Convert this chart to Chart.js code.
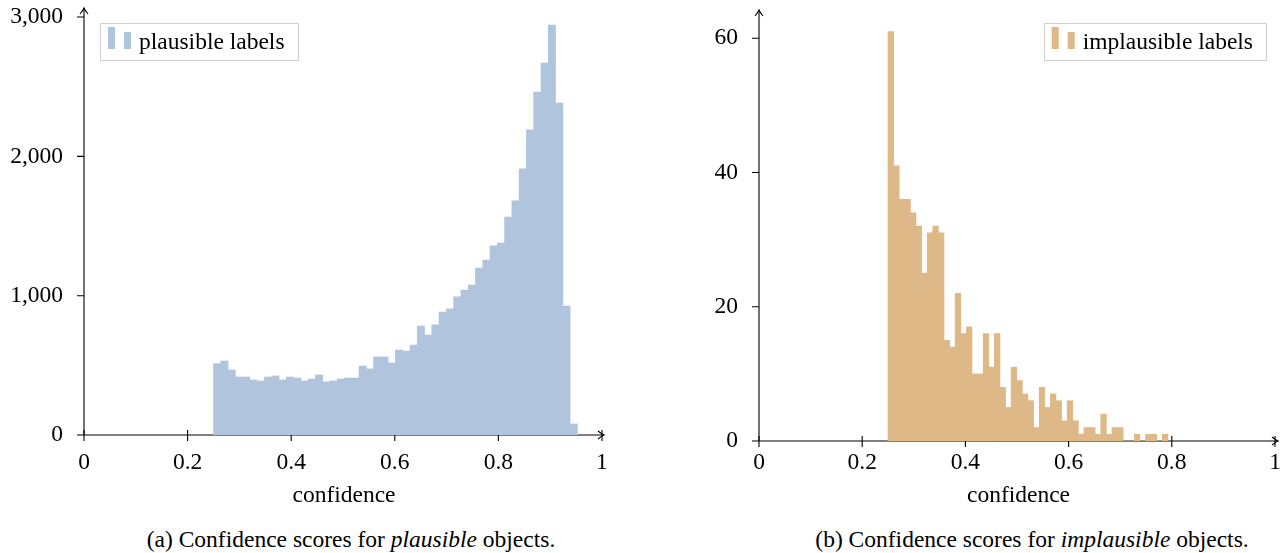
<!DOCTYPE html>
<html>
<head>
<meta charset="utf-8">
<script src="https://cdn.jsdelivr.net/npm/chart.js@4.4.1/dist/chart.umd.min.js"></script>
<style>
  body { margin: 0; background: #fff; width: 1287px; height: 553px; position: relative; overflow: hidden; font-family: "Liberation Serif", serif; }
  canvas { position: absolute; top: 0; }
  #plausible-chart { left: 0; }
  #implausible-chart { left: 647px; }
  .caption { position: absolute; top: 526px; font-size: 23.5px; line-height: 27px; color: #000; white-space: nowrap; transform: translateX(-50%); }
</style>
</head>
<body>
<canvas id="plausible-chart" width="640" height="520"></canvas>
<canvas id="implausible-chart" width="640" height="520"></canvas>
<div class="caption" style="left:351px">(a) Confidence scores for <i>plausible</i> objects.</div>
<div class="caption" style="left:1032px">(b) Confidence scores for <i>implausible</i> objects.</div>
<script>
// shared x axis
const xTicks = [0, 0.2, 0.4, 0.6, 0.8, 1];
const axisTitle = "confidence";

// (a) plausible objects, 50 bins
const plausibleLabel = "plausible labels";
const plausibleBinStart = 0.25;
const plausibleBinWidth = 0.01405;
const plausibleCounts = [
  512, 531, 467, 416, 416, 395, 388, 416, 424, 395,
  416, 409, 388, 402, 431, 381, 388, 402, 409, 409,
  495, 474, 560, 560, 517, 610, 603, 646, 782, 718,
  790, 883, 905, 991, 1041, 1077, 1199, 1256, 1357, 1378,
  1565, 1680, 1910, 2190, 2462, 2670, 2943, 2383, 926, 79,
];
const plausibleYTicks = [0, 1000, 2000, 3000];

// (b) implausible objects, 50 bins
const implausibleLabel = "implausible labels";
const implausibleBinStart = 0.25;
const implausibleBinWidth = 0.01085;
const implausibleCounts = [
  61, 41, 36, 36, 34, 32, 25, 31, 32, 31,
  15, 14, 22, 16, 17, 10, 10, 16, 11, 16,
  8, 5, 11, 9, 7, 6, 2, 8, 5, 7,
  6, 3, 6, 3, 1, 2, 2, 1, 4, 1,
  2, 2, 0, 0, 1, 0, 1, 1, 0, 1,
];
const implausibleYTicks = [0, 20, 40, 60];

const FONT = { family: '"Liberation Serif", "Times New Roman", serif', size: 23.5 };
Chart.defaults.color = "#000";

function histogramPoints(start, width, counts) {
  return counts.map((count, i) => ({ x: start + (i + 0.5) * width, y: count }));
}

function drawArrow(ctx, x, y, dir) {
  // tikz "->" style tip
  ctx.beginPath();
  if (dir === "right") {
    ctx.moveTo(x - 6, y - 4);
    ctx.quadraticCurveTo(x - 2, y - 0.8, x, y);
    ctx.quadraticCurveTo(x - 2, y + 0.8, x - 6, y + 4);
  } else {
    ctx.moveTo(x - 4, y + 6);
    ctx.quadraticCurveTo(x - 0.8, y + 2, x, y);
    ctx.quadraticCurveTo(x + 0.8, y + 2, x + 4, y + 6);
  }
  ctx.stroke();
}

const pgfAxes = {
  id: "pgfAxes",
  beforeDatasetsDraw(chart, args, opts) {
    const { ctx, chartArea, scales } = chart;
    const { left, right, top, bottom } = chartArea;
    ctx.save();
    ctx.strokeStyle = "#000";
    ctx.lineWidth = 1.1;
    ctx.beginPath();
    xTicks.forEach((v) => {
      const px = scales.x.getPixelForValue(v);
      ctx.moveTo(px, bottom - 5);
      ctx.lineTo(px, bottom + 6);
    });
    opts.yTicks.forEach((v) => {
      const py = scales.y.getPixelForValue(v);
      ctx.moveTo(left - 7, py);
      ctx.lineTo(left, py);
    });
    ctx.stroke();
    ctx.beginPath();
    ctx.moveTo(left, bottom);
    ctx.lineTo(right, bottom);
    ctx.moveTo(left, bottom);
    ctx.lineTo(left, top);
    ctx.stroke();
    drawArrow(ctx, right, bottom, "right");
    drawArrow(ctx, left, top, "up");
    ctx.restore();
  },
  afterDatasetsDraw(chart, args, opts) {
    const { ctx, chartArea } = chart;
    const ds = chart.data.datasets[0];
    ctx.save();
    ctx.font = `${FONT.size}px ${FONT.family}`;
    const tw = ctx.measureText(ds.label).width;
    const w = 39 + tw + 13;
    const h = 37;
    const bx = opts.side === "left" ? chartArea.left + 16 : chartArea.right - 12 - w;
    const by = 23;
    ctx.fillStyle = "#fff";
    ctx.fillRect(bx, by, w, h);
    ctx.strokeStyle = "#cfcfcf";
    ctx.lineWidth = 1;
    ctx.strokeRect(Math.round(bx) + 0.5, by + 0.5, Math.round(w), h);
    ctx.fillStyle = ds.backgroundColor;
    ctx.fillRect(bx + 8, by + 4, 7, 22);
    ctx.fillRect(bx + 24, by + 9, 7, 17);
    ctx.fillStyle = "#000";
    ctx.textBaseline = "middle";
    ctx.fillText(ds.label, bx + 39, by + h / 2 + 1);
    ctx.restore();
  },
};

function makeHistogram(canvasId, cfg) {
  const canvas = document.getElementById(canvasId);
  return new Chart(canvas, {
    type: "bar",
    data: {
      datasets: [{
        label: cfg.label,
        data: histogramPoints(cfg.binStart, cfg.binWidth, cfg.counts),
        backgroundColor: cfg.color,
        borderWidth: 0,
        barPercentage: 1,
        categoryPercentage: 1,
        grouped: false,
      }],
    },
    options: {
      responsive: false,
      animation: false,
      devicePixelRatio: 1,
      layout: { padding: { left: 0, top: cfg.top, right: cfg.padRight, bottom: 0 } },
      plugins: {
        legend: { display: false },
        tooltip: { enabled: false },
        pgfAxes: { yTicks: cfg.yTicks, side: cfg.legendSide },
      },
      scales: {
        x: {
          type: "linear",
          min: 0,
          max: cfg.xMax,
          offset: false,
          grid: { display: false, drawTicks: false },
          border: { display: false },
          afterBuildTicks: (scale) => { scale.ticks = xTicks.map((v) => ({ value: v })); },
          afterFit: (scale) => {
            scale.height = 520 - cfg.baseline;
            scale.paddingLeft = 0;
            scale.paddingRight = 0;
          },
          ticks: {
            font: FONT,
            color: "#000",
            padding: cfg.xTickPad,
            maxRotation: 0,
            autoSkip: false,
            callback: (v) => String(+Number(v).toFixed(2)),
          },
          title: { display: true, text: axisTitle, font: FONT, color: "#000", padding: { top: 0, bottom: 10 } },
        },
        y: {
          min: 0,
          max: cfg.yMax,
          grid: { display: false, drawTicks: false },
          border: { display: false },
          afterBuildTicks: (scale) => { scale.ticks = cfg.yTicks.map((v) => ({ value: v })); },
          afterFit: (scale) => {
            scale.width = cfg.axisLeft;
            scale.paddingTop = 0;
            scale.paddingBottom = 0;
          },
          ticks: {
            font: FONT,
            color: "#000",
            padding: 21,
            callback: (v) => Number(v).toLocaleString("en-US"),
          },
        },
      },
    },
    plugins: [pgfAxes],
  });
}

makeHistogram("plausible-chart", {
  label: plausibleLabel,
  binStart: plausibleBinStart,
  binWidth: plausibleBinWidth,
  counts: plausibleCounts,
  yTicks: plausibleYTicks,
  color: "#b0c4de",
  legendSide: "left",
  axisLeft: 84,
  padRight: 36,
  top: 8,
  baseline: 435,
  xMax: 1.0039,
  yMax: 3065,
  xTickPad: 14,
});

makeHistogram("implausible-chart", {
  label: implausibleLabel,
  binStart: implausibleBinStart,
  binWidth: implausibleBinWidth,
  counts: implausibleCounts,
  yTicks: implausibleYTicks,
  color: "#deb887",
  legendSide: "right",
  axisLeft: 112,
  padRight: 9,
  top: 10,
  baseline: 441,
  xMax: 1.0058,
  yMax: 64.2,
  xTickPad: 8,
});
</script>
</body>
</html>
